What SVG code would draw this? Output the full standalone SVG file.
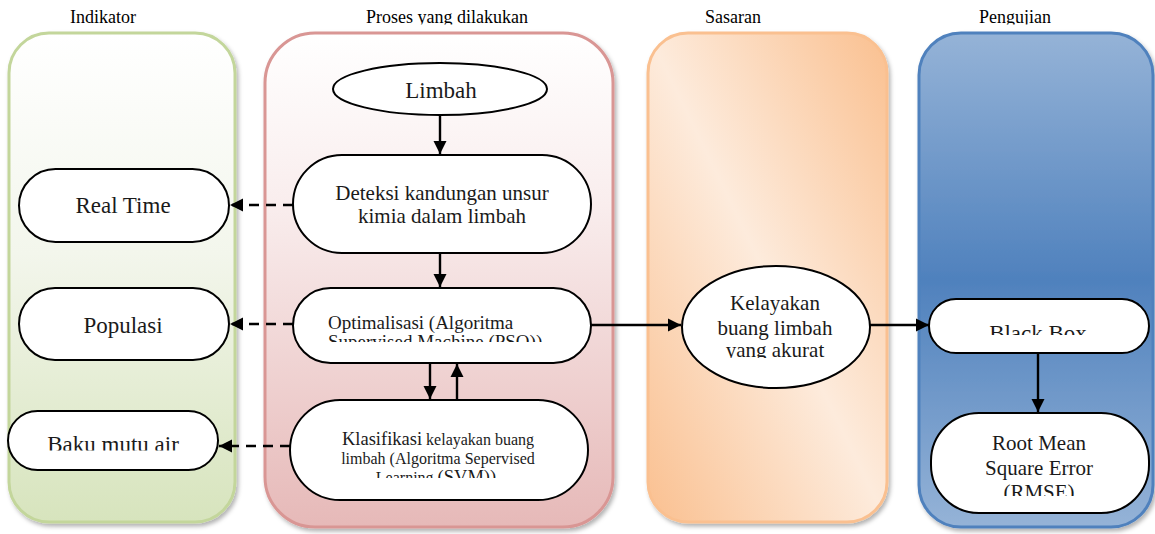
<svg xmlns="http://www.w3.org/2000/svg" width="1155" height="534" viewBox="0 0 1155 534">
  <defs>
    <style>
      .hdr { font-family: "Liberation Serif", "Times New Roman", serif; font-size: 18px; fill: #000; text-anchor: middle; }
      .lbl { font-family: "Liberation Serif", "Times New Roman", serif; fill: #1a1a1a; text-anchor: middle; }
      .node { fill: #ffffff; stroke: #000; stroke-width: 2; }
      .flow { stroke: #000; stroke-width: 2.4; fill: none; }
      .dash { stroke: #000; stroke-width: 2.4; fill: none; stroke-dasharray: 10 7; }
    </style>
    <linearGradient id="gGreen" x1="0" y1="0" x2="0" y2="1">
      <stop offset="0" stop-color="#ffffff"/>
      <stop offset="0.45" stop-color="#f3f6ec"/>
      <stop offset="1" stop-color="#d7e4bd"/>
    </linearGradient>
    <linearGradient id="gPink" x1="0" y1="0" x2="0" y2="1">
      <stop offset="0" stop-color="#ffffff"/>
      <stop offset="0.35" stop-color="#f9eded"/>
      <stop offset="1" stop-color="#e6b9b8"/>
    </linearGradient>
    <linearGradient id="gOrange" x1="0" y1="1" x2="1" y2="0">
      <stop offset="0" stop-color="#fac090"/>
      <stop offset="0.5" stop-color="#fdebdc"/>
      <stop offset="1" stop-color="#fac090"/>
    </linearGradient>
    <linearGradient id="gBlue" x1="0" y1="0" x2="0" y2="1">
      <stop offset="0" stop-color="#95b3d7"/>
      <stop offset="0.5" stop-color="#4f81bd"/>
      <stop offset="1" stop-color="#95b3d7"/>
    </linearGradient>
    <filter id="shadow" x="-10%" y="-10%" width="125%" height="125%">
      <feDropShadow dx="2" dy="3" stdDeviation="2" flood-color="#000" flood-opacity="0.3"/>
    </filter>
    <marker id="arrow" viewBox="0 0 10 10" refX="10" refY="5" markerWidth="5.5" markerHeight="5.5" markerUnits="strokeWidth" orient="auto">
      <path d="M0,0 L10,5 L0,10 Z" fill="#000"/>
    </marker>
    <clipPath id="clipHdr"><rect x="0" y="0" width="1155" height="24.5"/></clipPath>
    <clipPath id="clipOpt"><rect x="295" y="290" width="295" height="52"/></clipPath>
    <clipPath id="clipKlas"><rect x="292" y="402" width="296" height="76"/></clipPath>
    <clipPath id="clipBaku"><rect x="10" y="413" width="206" height="37.5"/></clipPath>
    <clipPath id="clipKel"><rect x="684" y="268" width="184" height="90"/></clipPath>
    <clipPath id="clipBB"><rect x="931" y="301" width="216" height="34"/></clipPath>
    <clipPath id="clipRmse"><rect x="933" y="415" width="214" height="81"/></clipPath>
  </defs>

  <!-- swimlane panels -->
  <g id="lane-indikator">
    <rect x="9" y="33" width="226" height="489" rx="40" ry="40" fill="url(#gGreen)" stroke="#c3d69b" stroke-width="3" filter="url(#shadow)"/>
    <text class="hdr" x="103" y="23">Indikator</text>
  </g>
  <g id="lane-proses">
    <rect x="265" y="33" width="348" height="494" rx="50" ry="50" fill="url(#gPink)" stroke="#d99694" stroke-width="3" filter="url(#shadow)"/>
    <text class="hdr" x="447" y="23" clip-path="url(#clipHdr)">Proses yang dilakukan</text>
  </g>
  <g id="lane-sasaran">
    <rect x="648" y="33" width="239" height="489" rx="40" ry="40" fill="url(#gOrange)" stroke="#fac090" stroke-width="3" filter="url(#shadow)"/>
    <text class="hdr" x="733" y="23">Sasaran</text>
  </g>
  <g id="lane-pengujian">
    <rect x="919" y="33" width="234" height="494" rx="42" ry="42" fill="url(#gBlue)" stroke="#4f81bd" stroke-width="3" filter="url(#shadow)"/>
    <text class="hdr" x="1015" y="23" clip-path="url(#clipHdr)">Pengujian</text>
  </g>

  <!-- connectors -->
  <g id="connectors">
    <line class="flow" x1="440" y1="115" x2="440" y2="154" marker-end="url(#arrow)"/>
    <line class="flow" x1="440" y1="253" x2="440" y2="287" marker-end="url(#arrow)"/>
    <line class="flow" x1="430" y1="363" x2="430" y2="399" marker-end="url(#arrow)"/>
    <line class="flow" x1="457" y1="400" x2="457" y2="364" marker-end="url(#arrow)"/>
    <line class="flow" x1="590" y1="325" x2="681" y2="325" marker-end="url(#arrow)"/>
    <line class="flow" x1="870" y1="325" x2="929" y2="325" marker-end="url(#arrow)"/>
    <line class="flow" x1="1038" y1="353" x2="1038" y2="412" marker-end="url(#arrow)"/>
    <line class="dash" x1="293" y1="205" x2="230" y2="205" marker-end="url(#arrow)"/>
    <line class="dash" x1="293" y1="324" x2="230" y2="324" marker-end="url(#arrow)"/>
    <line class="dash" x1="290" y1="446" x2="219" y2="446" marker-end="url(#arrow)"/>
  </g>

  <!-- process nodes -->
  <g id="node-limbah">
    <ellipse class="node" cx="440" cy="89" rx="107" ry="26"/>
    <text class="lbl" x="441" y="98" font-size="23">Limbah</text>
  </g>
  <g id="node-deteksi">
    <rect class="node" x="293" y="155" width="298" height="98" rx="49" ry="49"/>
    <text class="lbl" x="442" y="200" font-size="21">Deteksi kandungan unsur</text>
    <text class="lbl" x="442" y="223" font-size="21">kimia dalam limbah</text>
  </g>
  <g id="node-optimalisasi">
    <rect class="node" x="293" y="288" width="298" height="75" rx="37.5" ry="37.5"/>
    <g clip-path="url(#clipOpt)">
      <text class="lbl" x="328" y="329" font-size="19" style="text-anchor:start">Optimalisasi (Algoritma</text>
      <text class="lbl" x="328" y="348" font-size="19" style="text-anchor:start">Supervised Machine (PSO))</text>
    </g>
  </g>
  <g id="node-klasifikasi">
    <rect class="node" x="290" y="400" width="298" height="100" rx="50" ry="50"/>
    <g clip-path="url(#clipKlas)">
      <text class="lbl" x="438" y="445"><tspan font-size="18.5">Klasifikasi</tspan><tspan font-size="16"> kelayakan buang</tspan></text>
      <text class="lbl" x="438" y="464" font-size="16">limbah (Algoritma Sepervised</text>
      <text class="lbl" x="436" y="482.5"><tspan font-size="16">Learning </tspan><tspan font-size="18.5">(SVM))</tspan></text>
    </g>
  </g>

  <!-- indicator nodes -->
  <g id="node-realtime">
    <rect class="node" x="19" y="169" width="210" height="73" rx="36.5" ry="36.5"/>
    <text class="lbl" x="123" y="213" font-size="23">Real Time</text>
  </g>
  <g id="node-populasi">
    <rect class="node" x="19" y="288" width="210" height="72" rx="36" ry="36"/>
    <text class="lbl" x="123" y="333" font-size="23">Populasi</text>
  </g>
  <g id="node-baku">
    <rect class="node" x="8" y="411" width="210" height="59" rx="29.5" ry="29.5"/>
    <text class="lbl" x="113" y="452" font-size="23" clip-path="url(#clipBaku)">Baku mutu air</text>
  </g>

  <!-- target node -->
  <g id="node-kelayakan">
    <ellipse class="node" cx="776" cy="327" rx="94" ry="61"/>
    <g clip-path="url(#clipKel)">
      <text class="lbl" x="775" y="310" font-size="21">Kelayakan</text>
      <text class="lbl" x="775" y="335" font-size="21">buang limbah</text>
      <text class="lbl" x="775" y="357" font-size="21">yang akurat</text>
    </g>
  </g>

  <!-- testing nodes -->
  <g id="node-blackbox">
    <rect class="node" x="929" y="299" width="220" height="54" rx="27" ry="27"/>
    <text class="lbl" x="1038" y="341" font-size="23" clip-path="url(#clipBB)">Black Box</text>
  </g>
  <g id="node-rmse">
    <rect class="node" x="931" y="413" width="218" height="100" rx="48" ry="48"/>
    <g clip-path="url(#clipRmse)">
      <text class="lbl" x="1039" y="450" font-size="21">Root Mean</text>
      <text class="lbl" x="1039" y="475" font-size="21">Square Error</text>
      <text class="lbl" x="1039" y="499" font-size="21">(RMSE)</text>
    </g>
  </g>
</svg>
